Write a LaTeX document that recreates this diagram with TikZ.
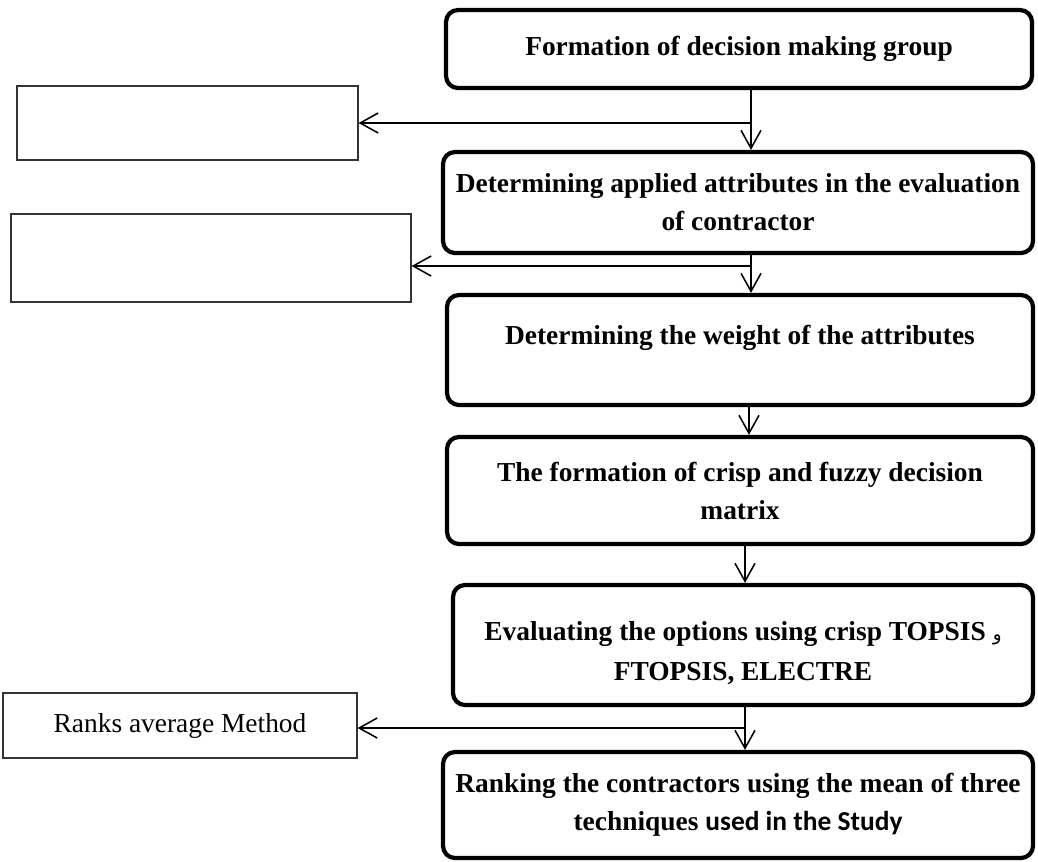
\documentclass[tikz,border=0pt]{standalone}
\usepackage{fontspec}
\setmainfont{Liberation Serif}
\newfontfamily\calibrifont{Carlito}
\newfontfamily\arabicfont[Script=Arabic]{DejaVu Sans}
\TeXXeTstate=1
\usetikzlibrary{arrows.meta}
\tikzset{
    stepbox/.style={draw, line width=3pt, rounded corners=0.3cm, align=center, inner sep=0pt, font=\bfseries\fontsize{19.5}{27}\selectfont},
    steptext/.style={align=center, font=\bfseries\fontsize{19.5}{28}\selectfont},
    sidebox/.style={draw=black!80, line width=0.8pt, inner sep=0pt, font=\fontsize{19.5}{24}\selectfont},
    flow/.style={-{Straight Barb[length=0.45cm,width=0.5cm]}, line width=1.1pt}
}

\begin{document}
\begin{tikzpicture}
    \useasboundingbox (0,0) rectangle (25.95,-21.525);

    \node[stepbox, minimum width=14.65cm, minimum height=1.95cm] (A) at (18.475,-1.225) {Formation of decision making group};
    \node[stepbox, minimum width=14.75cm, minimum height=2.525cm] (B) at (18.45,-5.0625) {Determining applied attributes in the evaluation\\of contractor};
    \node[stepbox, minimum width=14.65cm, minimum height=2.75cm, label={[steptext, yshift=0.3cm]center:Determining the weight of the attributes}] (C) at (18.5,-8.75) {};
    \node[stepbox, minimum width=14.65cm, minimum height=2.675cm] (D) at (18.5,-12.2625) {The formation of crisp and fuzzy decision\\matrix};
    \node[stepbox, minimum width=14.5cm, minimum height=3cm, label={[steptext, yshift=-0.2cm]center:Evaluating the options using crisp TOPSIS {\mdseries\fontsize{13}{13}\arabicfont\beginR و\endR}\\FTOPSIS, ELECTRE}] (E) at (18.575,-16.125) {};
    \node[stepbox, minimum width=14.75cm, minimum height=2.65cm] (F) at (18.45,-20.125) {Ranking the contractors using the mean of three\\techniques {\calibrifont used in the Study}};

    \node[sidebox, minimum width=8.525cm, minimum height=1.85cm] (G) at (4.6875,-3.075) {};
    \node[sidebox, minimum width=10cm, minimum height=2.2cm] (H) at (5.275,-6.45) {};
    \node[sidebox, minimum width=8.85cm, minimum height=1.625cm] (I) at (4.5,-18.1375) {Ranks average Method};

    \coordinate (j1) at (18.775,-3.075);
    \coordinate (j2) at (18.775,-6.65);
    \coordinate (j3) at (18.625,-18.2);

    \draw[flow] (j1 |- A.south) -- (j1 |- B.north);
    \draw[flow] (j1) -- (G.east);
    \draw[flow] (j2 |- B.south) -- (j2 |- C.north);
    \draw[flow] (j2) -- (j2 -| H.east);
    \draw[flow] ([xshift=0.225cm]C.south) -- ([xshift=0.225cm]D.north);
    \draw[flow] ([xshift=0.125cm]D.south) -- (j3 |- E.north);
    \draw[flow] (j3 |- E.south) -- (j3 |- F.north);
    \draw[flow] (j3) -- (j3 -| I.east);

\end{tikzpicture}
\end{document}
